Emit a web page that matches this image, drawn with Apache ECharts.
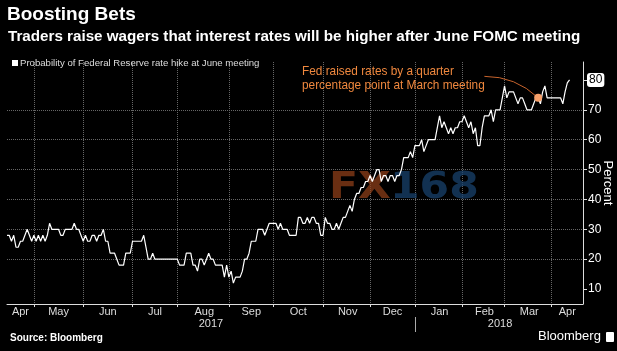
<!DOCTYPE html>
<html>
<head>
<meta charset="utf-8">
<script src="https://cdn.jsdelivr.net/npm/echarts@6/dist/echarts.min.js"></script>
<style>
html,body{margin:0;padding:0;background:#000;}
#chart{width:617px;height:351px;}
</style>
</head>
<body>
<div id="chart"></div>
<script>
// ---- Data ----
const titleText = 'Boosting Bets';
const subtitleText = 'Traders raise wagers that interest rates will be higher after June FOMC meeting';
const seriesName = 'Probability of Federal Reserve rate hike at June meeting';
const annotationText = 'Fed raised rates by a quarter\npercentage point at March meeting';
const sourceText = 'Source: Bloomberg';

// US market holidays skipped by the trading-day axis
const tradingHolidays = ['2017-04-14','2017-05-29','2017-07-04','2017-09-04','2017-11-23',
  '2017-12-25','2018-01-01','2018-01-15','2018-02-19','2018-03-30'];
const axisStart = '2017-04-12';
const axisEnd = '2018-04-20';

// Probability (%) per trading day, grouped by month
const apr2017 = [28,28,26,28,24,24,26,26,28,30,28,26];
const may2017 = [28,26,28,26,28,26,28,32,30,30,30,30,28,28,30,30,30,30,32,30,30,28];
const jun2017 = [26,28,26,26,28,28,26,28,28,30,26,26,22,22,22,20,18,18,18,22,22,22];
const jul2017 = [26,26,26,26,26,28,24,20,20,22,20,20,20,20,20,20,20,20,20,20];
const aug2017 = [20,18,18,18,22,22,22,18,18,16,20,20,18,20,22,20,20,18,18,18,18,14,18];
const sep2017 = [14,16,12,14,14,14,16,20,20,22,26,26,26,30,30,30,28,30,32,32];
const oct2017 = [32,32,30,32,30,30,30,28,28,28,28,34,34,32,32,34,32,34,34,32,32,28];
const nov2017 = [28,34,32,32,30,30,32,30,32,34,34,36,38,36,40,42,42,44,44,46,46];
const dec2017 = [48,46,48,50,50,46,48,48,46,48,48,46,48,48,50,54,54,54,56,54];
const jan2018 = [58,58,58,60,56,58,60,60,60,60,64,68,64,66,64,62,64,62,64,64,66];
const feb2018 = [66,68,66,64,66,62,64,58,58,64,68,68,68,70,66,70,70,70,74];
const mar2018 = [78,74,76,76,76,74,72,74,74,72,70,70,70,72,74,74,72,76,78,74,74];
const apr2018 = [74,74,74,74,74,72,76,79,80];

const monthNames = ['Jan','Feb','Mar','Apr','May','Jun','Jul','Aug','Sep','Oct','Nov','Dec'];
const yTicks = [10,20,30,40,50,60,70,80];

// annotation anchors (dates on the axis)
const hikeDate = '2018-03-22';
const arrowStart = ['2018-02-15', 81.2];

// ---- Build axis categories ----
function fmt(d){
  const m = d.getUTCMonth()+1, day = d.getUTCDate();
  return d.getUTCFullYear()+'-'+(m<10?'0':'')+m+'-'+(day<10?'0':'')+day;
}
const days = [];
for (let d = new Date(axisStart+'T00:00:00Z'); fmt(d) <= axisEnd; d.setUTCDate(d.getUTCDate()+1)) {
  const wd = d.getUTCDay();
  const s = fmt(d);
  if (wd === 0 || wd === 6 || tradingHolidays.indexOf(s) >= 0) continue;
  days.push(s);
}
const values = [].concat(apr2017,may2017,jun2017,jul2017,aug2017,sep2017,oct2017,nov2017,dec2017,jan2018,feb2018,mar2018,apr2018);
const seriesData = days.map((d,i) => i < values.length ? values[i] : null);
const lastValue = values[values.length-1];
const hikeValue = values[days.indexOf(hikeDate)];

// month starts / mid-month label positions, year starts / mid-year positions
const monthStart = new Set(), monthMid = new Set(), yearStart = new Set(), yearMid = new Set();
(function(){
  let segStart = 0;
  for (let i = 1; i <= days.length; i++) {
    if (i === days.length || days[i].slice(0,7) !== days[i-1].slice(0,7)) {
      monthMid.add(Math.round((segStart + (i === days.length ? i-1 : i)) / 2));
      if (i < days.length) monthStart.add(i);
      segStart = i;
    }
  }
  let ySeg = 0;
  for (let i = 1; i <= days.length; i++) {
    if (i === days.length || days[i].slice(0,4) !== days[i-1].slice(0,4)) {
      yearMid.add(Math.round((ySeg + (i === days.length ? i-1 : i)) / 2));
      if (i < days.length) yearStart.add(i);
      ySeg = i;
    }
  }
})();

const sans = "'Liberation Sans',Arial,sans-serif";

const chart = echarts.init(document.getElementById('chart'), null, {renderer:'canvas'});
chart.setOption({
  backgroundColor: '#000',
  animation: false,
  title: [
    {text: titleText, left: 7, top: 5, padding: 0, textStyle:{color:'#fff', fontSize:19, fontWeight:'bold', fontFamily:sans}},
    {text: subtitleText, left: 8, top: 29, padding: 0, textStyle:{color:'#fff', fontSize:15.2, fontWeight:'bold', fontFamily:sans}},
    {text: sourceText, left: 10, top: 333, padding: 0, textStyle:{color:'#fff', fontSize:10, fontWeight:'bold', fontFamily:sans}},
    {text: 'Bloomberg', left: 538, top: 330, padding: 0, textStyle:{color:'#fff', fontSize:13, fontWeight:'normal', fontFamily:sans}}
  ],
  legend: {
    data: [seriesName], left: 12, top: 58, icon: 'rect', itemWidth: 6, itemHeight: 6, itemGap: 4,
    padding: 0,
    textStyle: {color:'#ddd', fontSize:9.6, fontFamily:sans, padding:[0,0,0,-3]}
  },
  grid: {left: 7, right: 34, top: 62, bottom: 47, containLabel: false, outerBoundsMode: 'none'},
  axisPointer: {triggerOn: 'none'},
  xAxis: [
    {
      type: 'category', data: days, boundaryGap: false, position: 'bottom',
      axisLine: {show:true, lineStyle:{color:'#ddd', width:1}},
      axisTick: {show:true, length:3, interval: (i) => monthStart.has(i), lineStyle:{color:'#ddd'}},
      axisLabel: {interval: (i) => monthMid.has(i), formatter: (v) => monthNames[+v.slice(5,7)-1],
        color:'#ddd', fontSize:11, margin:2, fontFamily:sans, hideOverlap:false},
      splitLine: {show:true, interval: (i) => monthStart.has(i), lineStyle:{color:'#666', type:'dotted', width:1}},
      axisPointer: {show:false}
    },
    {
      type: 'category', data: days, boundaryGap: false, position: 'bottom', offset: 13,
      axisLine: {show:false},
      axisTick: {show:true, length:15, interval: (i) => yearStart.has(i), lineStyle:{color:'#aaa'}},
      axisLabel: {interval: (i) => yearMid.has(i), formatter: (v) => v.slice(0,4),
        color:'#ddd', fontSize:11, margin:1, fontFamily:sans, hideOverlap:false},
      splitLine: {show:false},
      axisPointer: {show:false}
    }
  ],
  yAxis: {
    type: 'value', position: 'right', min: 5, max: 86,
    axisLine: {show:true, lineStyle:{color:'#ddd'}},
    axisTick: {show:true, length:4, lineStyle:{color:'#ddd'}, customValues: yTicks},
    axisLabel: {color:'#fff', fontSize:12, margin:5, fontFamily:sans, customValues: yTicks},
    splitLine: {show:true, lineStyle:{color:'#666', type:'dotted'}, showMinLine:false, showMaxLine:false},
    name: 'Percent', nameLocation: 'middle', nameRotate: -90, nameGap: 18, nameMoveOverlap: false,
    nameTextStyle: {color:'#fff', fontSize:13, fontFamily:sans},
    axisPointer: {
      show: true, value: lastValue, status: 'show', type: 'none', snap: false,
      label: {show:true, backgroundColor:'#fff', color:'#000', fontSize:12, fontFamily:sans, padding:[1,2,1,2], margin:4,
        formatter: (p) => Math.round(p.value)}
    }
  },
  graphic: [
    {type:'text', left: 329, top: 170, z: 1, scaleX: 1.15, style:{text:'FX', fill:'rgba(150,65,25,0.7)', font:"bold 37px 'DejaVu Sans'"}},
    {type:'text', left: 390, top: 170, z: 1, scaleX: 1.15, style:{text:'168', fill:'rgba(25,70,115,0.7)', font:"bold 37px 'DejaVu Sans'"}},
    {type:'text', left: 302, top: 64, z: 5, scaleX: 0.876, style:{text: annotationText, fill:'#f0883e', font:"13.5px "+sans, lineHeight:14}},
    {type:'rect', left: 606, top: 332, z: 5, shape:{width:8, height:10, r:1}, style:{fill:'#fff'}}
  ],
  series: [
    {
      name: seriesName, type: 'line', data: seriesData, showSymbol: false, symbol: 'none',
      z: 3, color: '#fff',
      lineStyle: {color:'#fff', width:1.2},
      markPoint: {
        symbol: 'circle', symbolSize: 8, silent: true,
        itemStyle: {color:'#f7a06a'},
        label: {show:false},
        data: [{coord: [hikeDate, hikeValue]}]
      }
    },
    {
      type: 'lines', coordinateSystem: 'cartesian2d', z: 4, silent: true,
      lineStyle: {color:'#c8642d', width:1, curveness:0.2, opacity:1},
      data: [{coords: [arrowStart, [hikeDate, hikeValue]]}]
    }
  ]
});
</script>
</body>
</html>
